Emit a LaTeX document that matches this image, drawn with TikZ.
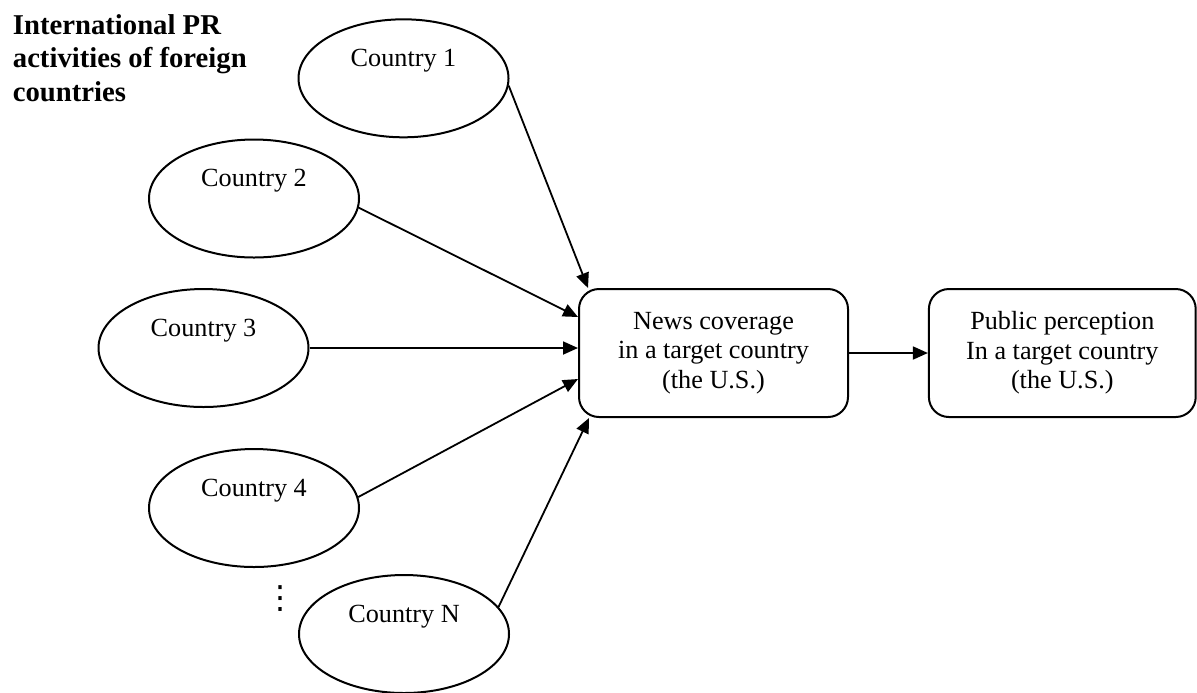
\documentclass[tikz,border=0pt]{standalone}
\usepackage{fontspec}
\setmainfont{Liberation Serif}
\newfontfamily\symbfont{DejaVu Sans}
\usetikzlibrary{shapes.geometric,arrows.meta}
\begin{document}
\begin{tikzpicture}[x=0.5pt,y=-0.5pt,
  country/.style={ellipse,draw,line width=1pt,minimum width=105pt,minimum height=59pt,inner sep=0pt},
  ctext/.style={anchor=base,font=\fontsize{13.1}{15}\selectfont,inner sep=0pt},
  boxnode/.style={draw,line width=1pt,rounded corners=10pt,minimum width=134.5pt,minimum height=64pt,align=center,font=\fontsize{13.1}{14.75}\selectfont,inner sep=0pt},
  link/.style={line width=0.9pt,-{Triangle[length=7.5pt,width=6.5pt]}},
  titlestyle/.style={anchor=north west,align=left,inner sep=0pt,font=\fontsize{14.35}{16.75}\selectfont\bfseries},
  dotstyle/.style={font=\symbfont\fontsize{16}{16}\selectfont,inner sep=0pt}
]
\useasboundingbox (0,0) rectangle (1197,692);
\node[titlestyle] (title) at (12.5,14) {International PR\\activities of foreign\\countries};

\node[country] (c1) at (403.5,78.3) {};
\node[country] (c2) at (254,198.5) {};
\node[country] (c3) at (203.5,348) {};
\node[country] (c4) at (254,508) {};
\node[country] (cN) at (404,634) {};

\node[ctext] (t1) at ([yshift=6pt]c1.center) {Country 1};
\node[ctext] (t2) at ([yshift=6pt]c2.center) {Country 2};
\node[ctext] (t3) at ([yshift=6pt]c3.center) {Country 3};
\node[ctext] (t4) at ([yshift=6pt]c4.center) {Country 4};
\node[ctext] (tN) at ([yshift=6pt]cN.center) {Country N};

\node[dotstyle] (dots) at (280.7,599) {⋮};

\node[boxnode] (news) at (713.5,353) {News coverage\\in a target country\\(the U.S.)};
\node[boxnode,minimum width=133.4pt] (pub) at (1062.3,353) {Public perception\\In a target country\\(the U.S.)};

\draw[link] (c1.-4) -- ([xshift=5pt]news.north west);
\draw[link] (c2.-5) -- ([yshift=18pt]news.west);
\draw[link] (c3.east) -- ([yshift=2.5pt]news.west);
\draw[link] (c4.6) -- ([yshift=-13pt]news.west);
\draw[link] (cN.16) -- ([xshift=5.5pt]news.south west);
\draw[link] (news.east) -- (pub.west);
\end{tikzpicture}
\end{document}
